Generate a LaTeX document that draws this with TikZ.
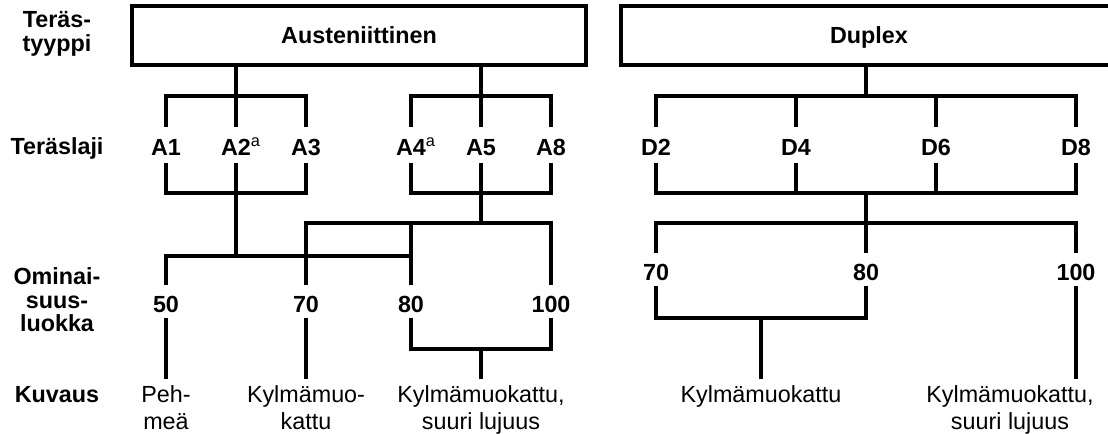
\documentclass[tikz,border=0pt]{standalone}
\usepackage{fontspec}
\setmainfont{Liberation Sans}
\newcommand\lblfont{\fontsize{17.5pt}{17.6pt}\selectfont}
\newcommand\descfont{\fontsize{17.5pt}{20.25pt}\selectfont}
\tikzset{
  conn/.style={line width=3pt, line join=miter},
  hdr/.style={draw, line width=3pt, inner sep=0pt, outer sep=0pt,
    minimum height=44.25pt, text depth=0pt, font=\bfseries\lblfont},
  lvl/.style={inner sep=0pt, outer sep=0pt, minimum height=27pt,
    text height=15.5pt, text depth=0pt, font=\bfseries\lblfont},
  num/.style={inner sep=0pt, outer sep=0pt, minimum height=24.75pt,
    text height=15.5pt, text depth=0pt, font=\bfseries\lblfont},
  rowlabel/.style={align=center, inner sep=0pt, font=\bfseries\lblfont},
  desc/.style={align=center, anchor=north, inner xsep=0pt, inner ysep=5.25pt,
    outer sep=0pt, font=\descfont},
}
\begin{document}
\begin{tikzpicture}[x=0.75pt, y=-0.75pt]
  \clip (0,0) rectangle (1108,434);
  \fill[white] (0,0) rectangle (1108,434);

  % row titles
  \node[rowlabel] (lType) at (57,34) {Teräs-\\tyyppi};
  \node[rowlabel, anchor=base] (lGrade) at (57,155) {Teräslaji};
  \node[rowlabel] (lClass) at (57,300) {Ominai-\\suus-\\luokka};
  \node[rowlabel, anchor=base] (lDesc) at (57,403) {Kuvaus};

  % steel types
  \node[hdr, minimum width=340.5pt] (aust) at (359,35.5) {Austeniittinen};
  \node[hdr, minimum width=372pt] (dup) at (869,35.5) {Duplex};

  % steel grades
  \node[lvl] (a1) at (166,145) {A1};
  \node[lvl] (a2) at (236,145) {A2\rlap{\textsuperscript{\mdseries a}}};
  \node[lvl] (a3) at (306,145) {A3};
  \node[lvl] (a4) at (411,145) {A4\rlap{\textsuperscript{\mdseries a}}};
  \node[lvl] (a5) at (481,145) {A5};
  \node[lvl] (a8) at (551,145) {A8};
  \node[lvl] (d2) at (656,145) {D2};
  \node[lvl] (d4) at (796,145) {D4};
  \node[lvl] (d6) at (936,145) {D6};
  \node[lvl] (d8) at (1076,145) {D8};

  % property classes
  \node[num] (c50)   at (166,302) {50};
  \node[num] (c70a)  at (306,302) {70};
  \node[num] (c80a)  at (411,302) {80};
  \node[num] (c100a) at (551,302) {100};
  \node[num] (c70d)  at (656,270) {70};
  \node[num] (c80d)  at (866,270) {80};
  \node[num] (c100d) at (1076,270) {100};

  % descriptions
  \node[desc] (k50)   at (166,379) {Peh-\\meä};
  \node[desc] (k70)   at (306,379) {Kylmämuo-\\kattu};
  \node[desc] (k80)   at (481,379) {Kylmämuokattu,\\suuri lujuus};
  \node[desc] (kd70)  at (761,379) {Kylmämuokattu};
  \node[desc] (kd100) at (1010,379) {Kylmämuokattu,\\suuri lujuus};

  % junctions
  \coordinate (jA1) at (236,96);
  \coordinate (jA2) at (236,193);
  \coordinate (jA3) at (236,256);
  \coordinate (jB1) at (481,96);
  \coordinate (jB2) at (481,193);
  \coordinate (jB3) at (481,223);
  \coordinate (jB4) at (481,349);
  \coordinate (jD1) at (866,96);
  \coordinate (jD2) at (866,193);
  \coordinate (jD3) at (866,223);
  \coordinate (jD4) at (761,318);

  % austenitic, A1-A3
  \draw[conn] (aust.south -| a2) -- (a2.north);
  \draw[conn] (a1.north) |- (jA1) -| (a3.north);
  \draw[conn] (a1.south) |- (jA2) -| (a3.south);
  \draw[conn] (a2.south) -- (jA3);
  \draw[conn] (c50.north) |- (c80a.north |- jA3);

  % austenitic, A4-A8
  \draw[conn] (aust.south -| a5) -- (a5.north);
  \draw[conn] (a4.north) |- (jB1) -| (a8.north);
  \draw[conn] (a4.south) |- (jB2) -| (a8.south);
  \draw[conn] (a5.south) -- (jB3);
  \draw[conn] (c70a.north) |- (jB3) -| (c100a.north);
  \draw[conn] (c80a.north) -- (c80a.north |- jB3);

  % austenitic classes to descriptions
  \draw[conn] (c50.south) -- (k50.north);
  \draw[conn] (c70a.south) -- (k70.north);
  \draw[conn] (c80a.south) |- (jB4) -| (c100a.south);
  \draw[conn] (jB4) -- (k80.north);

  % duplex
  \draw[conn] (dup.south -| jD1) -- (jD1);
  \draw[conn] (d2.north) |- (jD1) -| (d8.north);
  \draw[conn] (d4.north) -- (d4.north |- jD1);
  \draw[conn] (d6.north) -- (d6.north |- jD1);
  \draw[conn] (d2.south) |- (jD2) -| (d8.south);
  \draw[conn] (d4.south) -- (d4.south |- jD2);
  \draw[conn] (d6.south) -- (d6.south |- jD2);
  \draw[conn] (jD2) -- (c80d.north);
  \draw[conn] (c70d.north) |- (jD3) -| (c100d.north);
  \draw[conn] (c70d.south) |- (jD4) -| (c80d.south);
  \draw[conn] (jD4) -- (kd70.north);
  \draw[conn] (c100d.south) -- (c100d.south |- kd100.north);
\end{tikzpicture}
\end{document}
